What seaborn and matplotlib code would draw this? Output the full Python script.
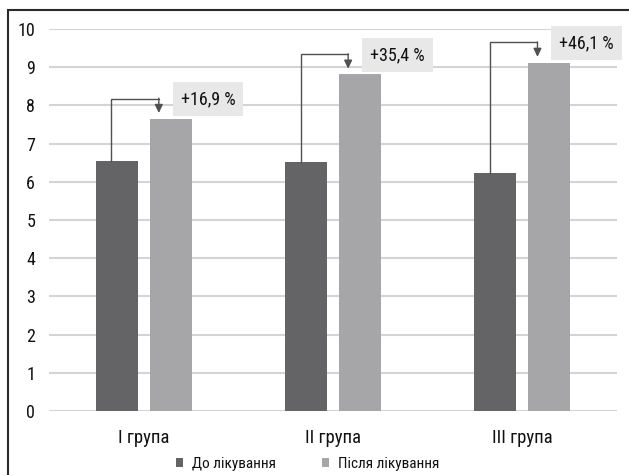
import matplotlib
matplotlib.use("Agg")
import matplotlib.pyplot as plt
from matplotlib.patches import Rectangle
import pandas as pd
import seaborn as sns

groups = ["I група", "II група", "III група"]
series = ["До лікування", "Після лікування"]
before = [6.54, 6.51, 6.24]
after = [7.65, 8.81, 9.12]
changes = ["+16,9 %", "+35,4 %", "+46,1 %"]
y_ticks = [0, 1, 2, 3, 4, 5, 6, 7, 8, 9, 10]

df = pd.DataFrame({
    "group": groups * 2,
    "stage": [series[0]] * 3 + [series[1]] * 3,
    "value": before + after,
})

sns.set_style("white")
plt.rcParams["font.family"] = ["Roboto Condensed", "DejaVu Sans"]

fig = plt.figure(figsize=(6.29, 4.75), dpi=100)
ax = fig.add_axes([49 / 629, 1 - 411 / 475, (617 - 49) / 629, (411 - 29) / 475])

sns.barplot(data=df, x="group", y="value", hue="stage", order=groups,
            hue_order=series, palette=["#646467", "#a6a6a9"],
            width=0.57, gap=0.22, saturation=1, ax=ax, legend=True,
            edgecolor="none")

ax.set_ylim(0, 10)
ax.set_xlim(-0.5, 2.5)
ax.set_yticks(y_ticks)
ax.yaxis.grid(True, color="#d4d4d4", linewidth=1.5)
ax.set_axisbelow(True)
for s in ax.spines.values():
    s.set_visible(False)
ax.set_xlabel("")
ax.set_ylabel("")
ax.tick_params(axis="y", length=0, pad=10, labelsize=13, labelcolor="#111111")
ax.tick_params(axis="x", length=0, pad=13, labelsize=13.5, labelcolor="#111111")

# connector brackets from the "before" bar to the "after" bar with change labels
line_c = "#505050"
for i, (b, a, txt) in enumerate(zip(before, after, changes)):
    x0 = i - 0.17
    x1 = i + 0.08
    top = a + 0.53
    ax.plot([x0, x0, x1], [b, top, top], color=line_c, lw=1.0,
            solid_joinstyle="miter")
    ax.annotate("", xy=(x1, a + 0.15), xytext=(x1, top + 0.01),
                arrowprops=dict(arrowstyle="-|>,head_length=0.5,head_width=0.24",
                                color=line_c, lw=1.0, shrinkA=0, shrinkB=0))
    ax.text(i + 0.34, top - 0.02, txt, ha="center", va="center", fontsize=13,
            color="#111111",
            bbox=dict(boxstyle="square,pad=0.45", fc="#e8e8e9", ec="none"))

leg = ax.legend(loc="center", bbox_to_anchor=(308 / 629, 1 - 464 / 475),
                bbox_transform=fig.transFigure, ncol=2, frameon=False,
                fontsize=11, handlelength=0.45, handleheight=0.45,
                handletextpad=0.6, columnspacing=3.0)
for t in leg.get_texts():
    t.set_color("#111111")

# outer frame
fig.add_artist(Rectangle((8 / 629, -0.05), 1.0, 1 - 10 / 475 + 0.05,
                         transform=fig.transFigure, fill=False,
                         ec="#2a2a2a", lw=1.5))

fig.savefig("out.png", dpi=100)
